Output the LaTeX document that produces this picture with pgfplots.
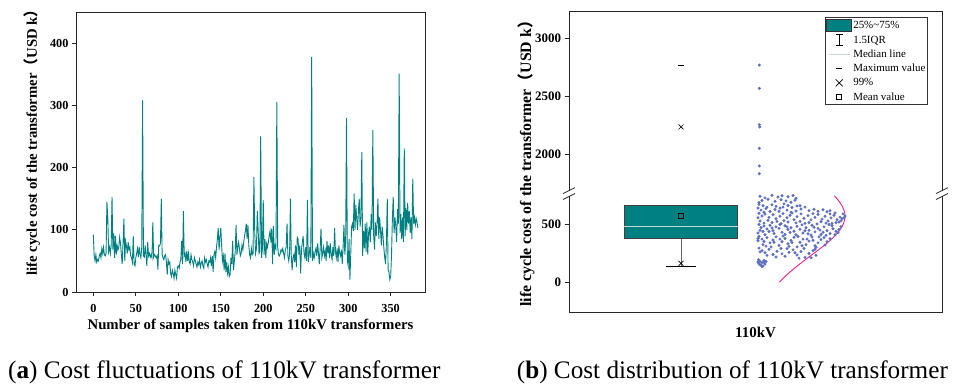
\documentclass[border=0pt]{standalone}
\usepackage{pgfplots}
\pgfplotsset{compat=1.18}
\usepackage{pgfplotstable}
\usepackage{fontspec}
\setmainfont{Liberation Serif}
\newfontfamily\cjk{Noto Sans CJK SC}
\definecolor{tealc}{RGB}{0,128,128}
\definecolor{scat}{RGB}{93,110,192}
\definecolor{curvec}{RGB}{240,32,140}
\definecolor{medc}{RGB}{200,214,214}
\pgfplotstableread[row sep=\\]{v\\%
92\\58\\50\\60\\48\\52\\50\\58\\62\\55\\70\\62\\72\\60\\58\\62\\145\\120\\65\\72\\%
62\\75\\153\\68\\94\\55\\90\\60\\75\\68\\72\\88\\78\\60\\45\\80\\118\\50\\82\\74\\%
62\\80\\68\\72\\58\\55\\48\\90\\45\\42\\55\\62\\70\\56\\72\\60\\55\\72\\308\\58\\%
56\\75\\60\\42\\80\\58\\62\\56\\60\\55\\112\\56\\60\\58\\55\\58\\36\\75\\74\\78\\%
150\\60\\55\\52\\58\\60\\48\\28\\52\\45\\48\\30\\25\\35\\30\\22\\35\\28\\22\\40\\%
42\\38\\48\\52\\82\\45\\130\\58\\62\\48\\66\\50\\62\\48\\45\\60\\52\\48\\42\\55\\%
50\\45\\40\\48\\44\\52\\40\\46\\50\\42\\38\\55\\48\\52\\45\\40\\50\\48\\55\\42\\%
58\\32\\60\\65\\55\\72\\85\\103\\68\\88\\103\\75\\50\\58\\35\\62\\32\\48\\30\\40\\%
25\\28\\55\\45\\82\\35\\50\\65\\108\\60\\72\\80\\70\\58\\62\\75\\68\\80\\90\\98\\%
110\\85\\108\\75\\60\\55\\70\\60\\62\\185\\95\\62\\70\\130\\100\\62\\65\\250\\55\\70\\%
148\\60\\85\\55\\78\\72\\80\\90\\98\\80\\102\\45\\106\\60\\75\\70\\305\\72\\60\\58\\%
62\\68\\65\\70\\62\\55\\68\\72\\110\\58\\50\\60\\150\\58\\35\\55\\60\\48\\75\\40\\%
88\\85\\60\\75\\30\\68\\80\\90\\62\\55\\72\\50\\148\\48\\60\\72\\55\\378\\50\\62\\%
55\\65\\70\\58\\78\\62\\45\\70\\102\\55\\62\\72\\58\\66\\50\\82\\62\\75\\55\\78\\%
60\\52\\72\\58\\103\\65\\55\\70\\48\\75\\62\\58\\68\\45\\72\\108\\60\\80\\280\\50\\%
42\\85\\20\\60\\105\\110\\98\\158\\100\\140\\118\\100\\130\\150\\105\\120\\225\\58\\98\\70\\%
110\\65\\112\\60\\95\\105\\80\\125\\100\\260\\90\\68\\112\\90\\110\\150\\85\\120\\100\\75\\%
105\\90\\70\\55\\45\\80\\150\\35\\32\\20\\25\\60\\118\\153\\95\\120\\105\\80\\133\\110\\%
351\\95\\125\\85\\120\\80\\231\\90\\135\\100\\143\\110\\130\\95\\120\\85\\182\\110\\120\\108\\%
118\\112\\103\\%
}\lcctable
\begin{document}
\begin{tikzpicture}
\useasboundingbox (0,0) rectangle (960bp,387bp);
% ---------------- left panel ----------------
\begin{axis}[
  at={(76bp,95bp)}, anchor=south west, scale only axis,
  width=349bp, height=280bp,
  xmin=-20.4, xmax=390.4, ymin=0, ymax=450,
  xtick={0,50,...,350}, ytick={0,100,...,400},
  tick align=outside, tick pos=left, major tick length=4bp,
  axis line style={black!85, line width=0.8bp},
  tick style={black!85, line width=0.8bp},
  /pgf/number format/assume math mode=true,
  ticklabel style={font=\fontsize{12.3}{14}\selectfont\bfseries},
  xticklabel style={anchor=center, yshift=-12bp},
  yticklabel style={anchor=east},
  xlabel={Number of samples taken from 110kV transformers},
  ylabel={life cycle cost of the transformer{\cjk （}USD k{\cjk ）}},
  label style={font=\fontsize{14.8}{16}\selectfont\bfseries},
  xlabel style={at={(axis description cs:0.5,0)}, anchor=center, yshift=-34bp},
  ylabel style={at={(axis description cs:-0.126,0.057)}, anchor=west, inner sep=0pt},
]
\addplot[tealc, line width=0.9bp] table[x expr=\coordindex, y index=0] {\lcctable};
\end{axis}
% ---------------- right panel ----------------
\begin{axis}[
  at={(569bp,75bp)}, anchor=south west, scale only axis,
  width=373bp, height=301bp,
  xmin=0, xmax=373, ymin=-256, ymax=2339,
  y filter/.expression={y>1200 ? y-900 : y},
  xtick={186.5}, xticklabels={110kV},
  ytick={0,500,1100,1600,2100}, yticklabels={0,500,2000,2500,3000},
  tick align=outside, ytick pos=left, xtick pos=bottom,
  major tick length=4.5bp,
  x tick style={draw=none},
  axis line style={black!85, line width=0.8bp},
  tick style={black!85, line width=0.8bp},
  ticklabel style={font=\fontsize{13}{15}\selectfont\bfseries},
  xticklabel style={anchor=center, yshift=-16bp, font=\fontsize{15}{17}\selectfont\bfseries},
  yticklabel style={anchor=east},
  ylabel={life cycle cost of the transformer{\cjk （}USD k{\cjk ）}},
  label style={font=\fontsize{15.9}{17}\selectfont\bfseries},
  ylabel style={at={(axis description cs:-0.1153,0.0166)}, anchor=west, inner sep=0pt},
  clip=false,
  legend cell align=left,
  legend style={at={(axis description cs:0.686,0.979)}, anchor=north west,
    font=\fontsize{11}{12}\selectfont, draw=black!80, line width=0.8bp,
    inner xsep=1bp, inner ysep=1.5bp, row sep=2.2bp,
    nodes={inner sep=1.2bp}},
]
% box
\addplot[fill=tealc, draw=black!75, line width=0.9bp, forget plot] coordinates {(55.3,376) (168.7,376) (168.7,660) (55.3,660)} -- cycle;
\addplot[medc, line width=1bp, forget plot] coordinates {(55.3,485) (168.7,485)};
\addplot[black!60, line width=1bp, forget plot] coordinates {(112,376) (112,138)};
\addplot[black, line width=0.9bp, forget plot] coordinates {(97,138) (127,138)};
\addplot[only marks, mark=square, mark size=2.6bp, black, mark options={line width=0.8bp}, forget plot] coordinates {(112,574)};
\addplot[only marks, mark=x, mark size=3.4bp, black, mark options={line width=0.7bp}, forget plot] coordinates {(112,164) (112,2239)};
\addplot[only marks, mark=-, mark size=2.6bp, black, mark options={line width=0.9bp}, forget plot] coordinates {(112,2773)};
% scatter
\addplot[only marks, mark=*, mark size=1.3bp, scat, forget plot] coordinates {
(190.3,2773) (190.3,2572) (190.3,2259) (190.8,2239) (190.3,2055) (190.3,1903) (190.3,1836)
(191,742) (196,728) (203,750) (209,735) (213,746) (219,738) (224,748) (227,725) (193,705) (199,716) (206,698) (212,712) (217,702) (222,690) (226,708) (190,688)
(190,672) (194,660) (198,648) (203,668) (207,655) (211,640) (215,676) (219,662) (223,645) (228,658) (232,632) (236,648) (240,618) (245,630) (249,612) (254,625) (258,608) (261,618) (192,622) (197,635) (201,610) (206,628) (210,612) (214,648) (218,622) (222,605) (227,615) (231,660) (189,640) (195,604)
(190,595) (193,572) (196,588) (200,560) (204,582) (207,548) (211,570) (214,592) (218,556) (221,578) (225,540) (228,566) (232,590) (235,552) (239,575) (242,538) (246,560) (249,585) (253,545) (256,570) (259,528) (262,555) (265,578) (268,540) (271,562) (274,590) (276,572) (273,548) (270,520) (266,598) (261,590) (257,510) (252,522) (248,503) (244,592) (240,515) (236,508) (231,525) (227,512) (223,598) (219,520) (215,532) (212,505) (208,525) (203,515) (199,535) (195,510) (191,528) (189,556) (263,508) (267,515) (272,530) (275,555)
(190,498) (192,472) (195,485) (198,460) (201,492) (204,445) (207,478) (210,465) (213,432) (216,488) (219,455) (222,470) (225,440) (228,482) (231,458) (234,425) (237,470) (240,448) (243,492) (246,435) (249,465) (252,412) (255,478) (258,445) (261,420) (264,462) (267,440) (270,455) (272,480) (269,428) (263,488) (257,405) (251,450) (245,475) (239,418) (233,495) (227,410) (221,430) (216,412) (211,498) (205,420) (200,438) (196,410) (191,448) (189,425) (194,438) (203,468) (218,478) (236,445) (254,432) (266,410) (260,498) (242,408)
(190,395) (193,372) (195,352) (198,385) (201,340) (204,365) (207,392) (210,318) (213,350) (216,378) (219,332) (222,360) (225,388) (228,305) (231,345) (234,372) (237,325) (240,355) (243,390) (246,315) (249,340) (252,368) (255,385) (258,350) (261,375) (256,322) (247,302) (238,372) (229,395) (220,310) (211,372) (202,305) (194,325) (189,358) (197,312) (214,398) (223,342) (233,315) (244,362) (250,392) (205,345) (189,378)
(190,295) (193,272) (196,255) (200,285) (204,240) (208,268) (212,292) (216,225) (220,258) (224,280) (228,235) (232,265) (236,215) (240,248) (244,272) (247,232) (242,212) (230,208) (218,290) (207,218) (198,232) (191,262) (235,292) (226,255) (213,245) (246,285)
(189.5,195) (191,182) (193,170) (195,188) (190,160) (192,148) (194,140) (196,158) (189,175) (193,135) (191,150) (195,172) (197,180)
};
% fitted distribution curve
\addplot[curvec, line width=0.9bp, smooth, forget plot] coordinates {
(210.3,0) (216.0,50) (222.5,100) (229.6,150) (237.1,200) (244.9,250) (252.5,300) (259.6,350) (265.8,400) (270.8,450) (274.2,500) (275.8,550) (275.7,600) (273.6,650) (269.9,700) (265.5,745)
};
% legend
\addlegendimage{legend image code/.code={\draw[fill=tealc, draw=black!80, line width=0.8bp] (0bp,-6bp) rectangle (25bp,6bp);}}
\addlegendentry{25\%\textasciitilde 75\%}
\addlegendimage{legend image code/.code={\path[draw=none,fill=none] (0bp,-6bp) rectangle (25bp,6bp); \draw[black, line width=0.8bp] (12.5bp,-5.5bp)--(12.5bp,5.5bp) (9bp,-5.5bp)--(16bp,-5.5bp) (9bp,5.5bp)--(16bp,5.5bp);}}
\addlegendentry{1.5IQR}
\addlegendimage{legend image code/.code={\path[draw=none,fill=none] (0bp,-6bp) rectangle (25bp,6bp); \draw[medc, line width=0.8bp] (2bp,0bp)--(23bp,0bp);}}
\addlegendentry{Median line}
\addlegendimage{legend image code/.code={\path[draw=none,fill=none] (0bp,-6bp) rectangle (25bp,6bp); \draw[black, line width=0.9bp] (9.7bp,0bp)--(15.3bp,0bp);}}
\addlegendentry{Maximum value}
\addlegendimage{legend image code/.code={\path[draw=none,fill=none] (0bp,-6bp) rectangle (25bp,6bp); \draw[black, line width=0.7bp] (9bp,-3.5bp)--(16bp,3.5bp) (9bp,3.5bp)--(16bp,-3.5bp);}}
\addlegendentry{99\%}
\addlegendimage{legend image code/.code={\path[draw=none,fill=none] (0bp,-6bp) rectangle (25bp,6bp); \draw[black, line width=0.8bp] (10bp,-2.6bp) rectangle (15bp,2.6bp);}}
\addlegendentry{Mean value}
% axis breaks
\fill[white] ([xshift=-2bp]axis cs:0,740) rectangle ([xshift=2bp]axis cs:0,790);
\fill[white] ([xshift=-2bp]axis cs:373,740) rectangle ([xshift=2bp]axis cs:373,790);
\draw[black!85, line width=0.8bp] ([xshift=-6bp,yshift=-3bp]axis cs:0,740) -- ([xshift=6bp,yshift=3bp]axis cs:0,740);
\draw[black!85, line width=0.8bp] ([xshift=-6bp,yshift=-3bp]axis cs:0,790) -- ([xshift=6bp,yshift=3bp]axis cs:0,790);
\draw[black!85, line width=0.8bp] ([xshift=-6bp,yshift=-3bp]axis cs:373,740) -- ([xshift=6bp,yshift=3bp]axis cs:373,740);
\draw[black!85, line width=0.8bp] ([xshift=-6bp,yshift=-3bp]axis cs:373,790) -- ([xshift=6bp,yshift=3bp]axis cs:373,790);
\end{axis}
% captions
\node[anchor=base west, inner sep=0pt, font=\fontsize{25.3}{29}\selectfont] at (8bp,9bp) {(\textbf{a}) Cost fluctuations of 110kV transformer};
\node[anchor=base west, inner sep=0pt, font=\fontsize{25.3}{29}\selectfont] at (516.7bp,9bp) {(\textbf{b}) Cost distribution of 110kV transformer};
\end{tikzpicture}
\end{document}
